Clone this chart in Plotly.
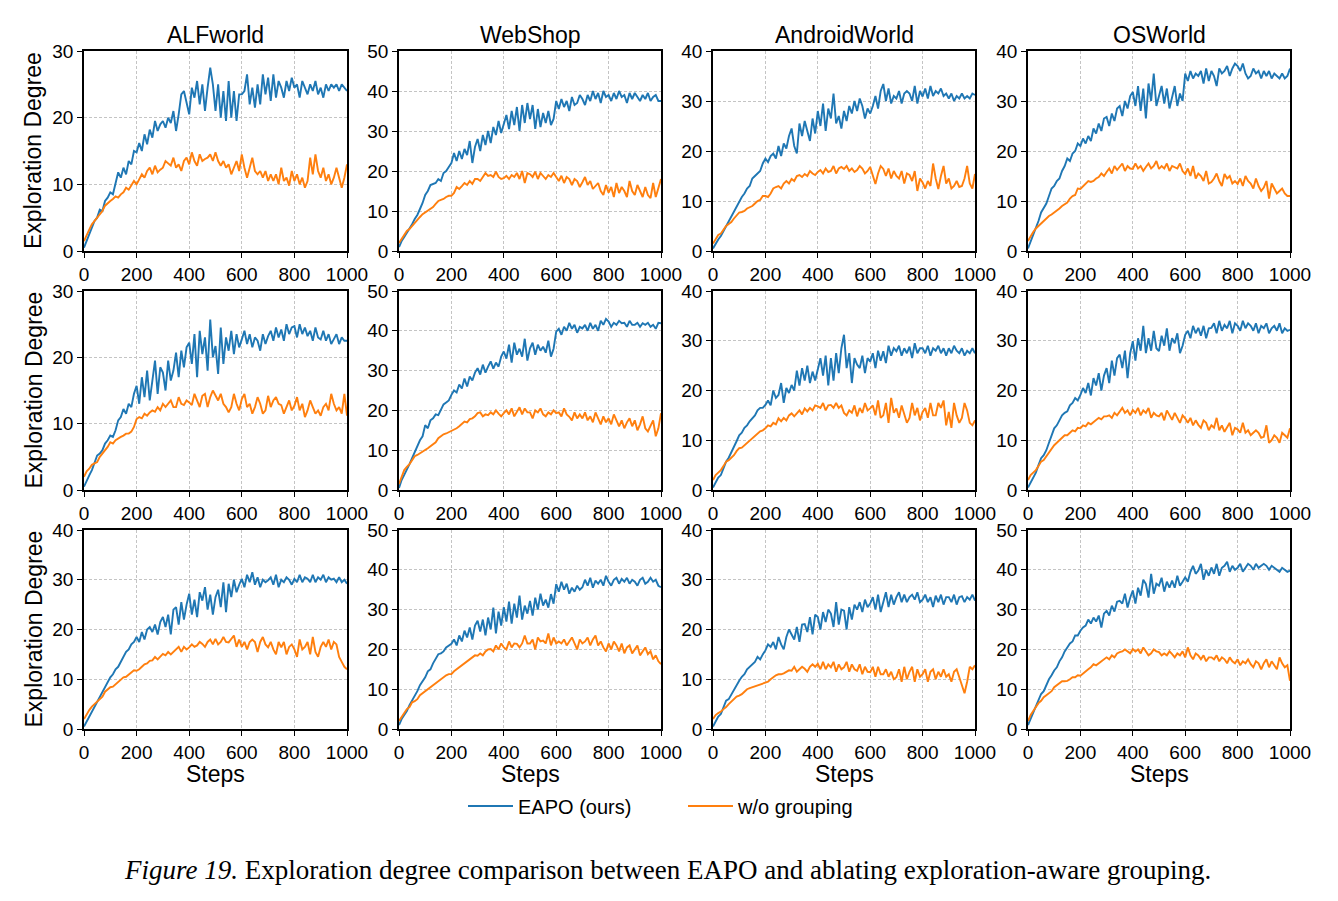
import plotly.graph_objects as go
from plotly.subplots import make_subplots

steps = list(range(0, 1001, 10))

env_titles = ["ALFworld", "WebShop", "AndroidWorld", "OSWorld"]
series_names = ["EAPO (ours)", "w/o grouping"]
colors = ["#1f77b4", "#ff7f0e"]

# ---------------- Row 1 ----------------
alf1_eapo = [0.5, 1.5, 2.5, 3.5, 4.5, 5.0, 6.2, 6.0, 7.5, 8.0,
             8.8, 8.5, 10.2, 11.8, 11.0, 12.5, 11.5, 13.5, 13.0, 15.0,
             14.8, 16.2, 15.0, 17.5, 16.0, 18.2, 17.0, 19.5, 18.0, 19.0,
             19.5, 18.5, 20.0, 19.2, 21.0, 18.0, 20.5, 23.5, 24.0, 22.0,
             20.5, 24.5, 23.0, 25.5, 22.0, 25.0, 21.0, 24.5, 27.5, 25.0,
             21.0, 25.0, 20.0, 24.0, 19.5, 25.5, 20.0, 24.0, 19.5, 23.5,
             23.5, 24.0, 26.5, 22.0, 24.5, 21.5, 25.0, 22.0, 26.5, 23.5,
             26.0, 22.5, 26.5, 23.0, 25.5, 24.5, 23.0, 25.5, 24.0, 26.0,
             24.5, 25.0, 23.0, 25.5, 24.5, 23.5, 25.0, 24.0, 25.5, 23.5,
             24.5, 23.0, 25.0, 24.0, 25.0, 24.5, 25.0, 24.0, 25.0, 24.5, 24.0]
alf1_wo = [1.5, 2.5, 3.2, 4.0, 4.5, 5.0, 5.5, 6.0, 6.8, 7.2,
           7.5, 7.8, 8.2, 8.0, 8.5, 8.8, 9.5, 9.2, 9.8, 10.5,
           10.0, 10.8, 11.5, 11.0, 12.0, 12.5, 11.5, 12.8, 11.8, 12.2,
           12.5, 13.5, 13.2, 12.8, 14.0, 12.5, 13.0, 12.0, 13.5, 14.0,
           13.0, 14.8, 13.5, 12.8, 14.5, 13.5, 13.8, 14.0, 14.5, 13.5,
           14.8, 13.5, 12.8, 13.5, 12.5, 13.0, 11.5, 12.5, 13.5, 12.0,
           14.5, 12.5, 11.0, 12.5, 14.0, 12.0, 11.5, 12.0, 11.0, 12.0,
           10.5, 11.5, 10.5, 11.5, 10.0, 12.5, 10.5, 11.0, 9.8, 12.0,
           10.5, 11.5, 10.0, 11.0, 9.5, 10.5, 14.0, 11.5, 14.5, 12.0,
           11.0, 12.5, 10.5, 11.5, 10.0, 11.0, 12.5, 11.0, 9.5, 11.0, 13.0]

web1_eapo = [1.0, 2.5, 3.5, 4.5, 5.5, 6.7, 8.0, 9.0, 10.5, 12.0,
             14.0, 15.0, 16.5, 16.8, 17.0, 18.0, 17.5, 19.5, 20.0, 21.0,
             22.0, 24.5, 22.5, 25.0, 23.0, 25.5, 24.0, 27.5, 22.0, 26.0,
             28.0, 25.0, 29.0, 26.5, 30.0, 27.0, 31.0, 29.0, 32.5, 29.5,
             32.0, 34.0, 30.5, 35.0, 31.5, 36.0, 30.0, 36.5, 32.0, 37.0,
             33.0, 36.5, 30.5, 35.5, 31.0, 34.5, 32.0, 35.0, 31.5, 33.0,
             37.5, 35.5, 38.0, 36.0, 37.5, 35.0, 38.5, 36.5, 37.0, 39.0,
             38.0, 36.5, 39.0, 37.5, 40.0, 38.0, 39.5, 37.0, 40.0, 38.5,
             39.0, 37.5, 39.5, 38.0, 40.0, 38.5, 39.0, 37.0, 39.5, 38.0,
             39.5, 38.5, 37.5, 39.0, 38.0, 39.5, 37.5, 38.5, 39.0, 37.5, 37.5]
web1_wo = [2.0, 3.0, 4.0, 5.0, 5.5, 6.3, 7.0, 7.8, 8.5, 9.2,
           9.6, 10.0, 10.5, 11.0, 11.8, 12.5, 12.8, 13.0, 13.5, 13.8,
           13.8, 14.5, 16.0, 15.5, 16.2, 17.0, 16.5, 17.5, 16.8, 18.0,
           18.0, 17.5, 18.5, 19.5, 18.8, 19.0, 18.5, 19.8, 18.5, 18.0,
           18.2, 18.8, 18.0, 19.0, 18.5, 19.5, 18.0, 20.0, 17.0, 19.5,
           19.2, 18.5, 19.8, 18.0, 19.5, 18.8, 18.0, 19.0, 18.5, 19.5,
           18.4, 17.5, 18.8, 17.0, 18.5, 18.0, 16.5, 18.0, 17.5, 16.0,
           17.2, 18.5, 16.5, 17.5, 15.5, 16.3, 17.0, 15.0, 14.0, 16.5,
           14.6, 16.0, 13.5, 17.0, 14.5, 16.0, 15.0, 13.5, 17.5, 15.0,
           14.0, 16.5, 15.0, 13.5, 16.0, 14.0, 13.2, 17.0, 13.5, 15.5, 18.0]

and1_eapo = [0.5, 1.5, 2.3, 3.0, 4.0, 5.0, 5.8, 6.8, 7.8, 9.0,
             10.0, 10.8, 11.5, 12.5, 13.0, 14.5, 15.0, 15.5, 16.0, 17.5,
             18.5, 17.8, 19.0, 19.5, 18.5, 21.0, 19.0, 21.5, 20.5, 23.0,
             24.5, 21.0, 19.5, 25.5, 23.0, 26.0, 24.0, 22.0, 26.5, 23.5,
             28.0, 25.0, 29.5, 24.0, 28.5, 26.5, 31.5, 25.5, 27.0, 24.5,
             28.0, 26.0, 29.0, 27.5, 30.0, 28.0, 30.5, 29.0, 26.5, 28.5,
             27.5, 29.0, 31.0, 28.5, 32.0, 33.4, 30.0, 32.5, 29.5, 31.0,
             30.5, 32.0, 29.5, 31.5, 32.0, 31.5, 30.0, 33.0, 29.5, 32.0,
             30.9, 32.5, 30.5, 33.0, 31.0, 32.0, 31.5, 32.5, 31.0, 31.5,
             30.5, 31.5, 30.0, 31.0, 30.5, 31.5, 30.5, 31.0, 30.5, 31.5, 31.2]
and1_wo = [1.5, 2.5, 3.2, 3.5, 4.3, 5.0, 5.4, 5.8, 6.5, 7.0,
           7.7, 7.8, 8.0, 8.5, 8.8, 9.0, 9.5, 10.0, 10.2, 11.0,
           11.0, 10.8, 11.5, 12.5, 12.8, 13.0, 12.5, 13.5, 14.0, 13.5,
           14.4, 14.0, 15.0, 15.2, 14.8, 15.4, 15.0, 16.0, 15.5, 15.2,
           15.8, 16.2, 15.5, 16.5, 15.8, 16.0, 17.0, 15.5, 16.5, 16.8,
           16.4, 17.0, 16.0, 16.5, 15.8, 16.2, 17.0, 16.5, 15.5, 16.0,
           16.8, 15.0, 13.4, 15.5, 17.0, 16.4, 15.0, 16.5, 14.5, 16.0,
           15.0, 14.5, 16.0, 13.5, 15.5, 15.2, 14.0, 16.0, 12.0, 14.5,
           13.7, 12.5, 14.0, 13.0, 17.5, 14.5, 12.4, 15.0, 17.0, 13.5,
           14.5, 12.5, 13.0, 14.0, 12.8, 13.0, 14.5, 17.0, 13.5, 12.5, 15.4]

os1_eapo = [0.5, 1.8, 3.0, 4.5, 6.0, 7.7, 8.5, 9.5, 11.0, 12.5,
            13.0, 14.0, 14.5, 16.0, 17.0, 18.5, 18.0, 19.5, 20.0, 21.5,
            21.0, 22.5, 21.5, 23.0, 22.0, 24.5, 23.5, 25.5, 24.0, 26.5,
            26.8, 25.0, 27.5, 26.0, 28.5, 29.0, 27.0, 30.0, 28.5, 31.0,
            31.8, 29.0, 33.0, 28.0, 32.5, 26.5, 33.5, 30.0, 35.5, 29.0,
            31.0, 33.0, 29.5, 32.5, 28.5, 31.0, 33.0, 29.0, 31.5, 30.0,
            35.5, 34.0, 36.0, 34.5, 35.5, 35.0, 36.0, 33.5, 36.5, 34.0,
            36.0, 35.0, 33.0, 36.5, 35.5, 36.0, 37.0, 35.0, 36.5, 37.5,
            37.0, 36.0, 37.5, 35.5, 34.5, 35.0, 36.5, 35.5, 36.0, 34.5,
            36.0, 35.0, 36.0, 34.5, 35.5, 35.0, 34.5, 35.5, 34.5, 35.0, 36.5]
os1_wo = [2.0, 3.0, 3.8, 4.5, 5.0, 5.7, 6.0, 6.5, 7.0, 7.3,
          7.7, 8.0, 8.5, 9.0, 9.3, 9.7, 10.5, 11.0, 11.2, 12.5,
          12.4, 13.0, 13.5, 14.0, 13.8, 14.0, 14.5, 14.8, 15.5, 15.0,
          15.8, 16.5, 15.5, 17.0, 16.2, 16.8, 17.5, 16.0, 17.0, 16.5,
          16.4, 17.5, 16.5, 17.0, 16.0, 16.8, 17.5, 16.5, 17.0, 18.0,
          16.4, 17.0, 16.5, 17.5, 16.0, 17.0, 16.8, 16.5, 17.5, 16.0,
          15.4, 16.5, 15.0, 17.0, 14.5, 15.5, 15.0, 14.0, 16.0, 13.5,
          13.8, 14.5, 15.5, 14.0, 13.0, 15.4, 14.5, 15.0, 13.5, 14.0,
          13.4, 14.5, 13.0, 15.0, 14.0, 13.5, 12.5, 14.5, 13.0, 12.0,
          12.7, 14.0, 10.5, 13.5, 12.5, 11.5, 12.0, 12.5, 11.5, 11.0, 11.0]

# ---------------- Row 2 ----------------
alf2_eapo = [0.5, 1.5, 2.2, 3.0, 4.0, 5.2, 5.5, 6.0, 7.0, 7.5,
             8.2, 8.0, 9.0, 10.5, 11.0, 12.2, 11.5, 13.0, 12.5, 14.5,
             15.7, 13.0, 17.0, 14.0, 18.0, 13.5, 16.5, 19.5, 14.5, 18.5,
             17.7, 15.0, 19.5, 16.5, 18.0, 20.7, 17.0, 21.0, 18.5, 21.5,
             22.2, 19.0, 23.5, 17.0, 24.0, 20.5, 23.0, 18.0, 25.7, 20.0,
             21.7, 17.5, 24.5, 19.0, 23.0, 21.0, 24.0, 20.5, 23.5, 21.5,
             22.7, 24.0, 22.0, 23.5, 21.5, 23.0, 22.5, 21.0, 23.5, 22.0,
             23.2, 24.0, 22.5, 24.5, 23.0, 24.2, 22.5, 25.0, 23.5, 24.5,
             24.7, 23.0, 25.0, 23.5, 24.5, 23.2, 24.0, 22.5, 24.5, 23.0,
             22.7, 24.0, 22.5, 23.5, 22.0, 22.7, 23.5, 22.0, 23.0, 22.5, 22.5]
alf2_wo = [2.0, 2.8, 3.2, 3.8, 4.0, 4.2, 5.0, 5.5, 6.0, 6.5,
           7.2, 7.0, 7.5, 7.8, 8.0, 8.2, 8.5, 8.5, 8.8, 9.5,
           10.7, 11.0, 10.8, 11.5, 11.2, 11.7, 12.0, 11.8, 12.5, 12.0,
           13.0, 12.5, 13.0, 13.5, 12.5, 12.5, 14.0, 13.0, 12.8, 13.5,
           13.2, 12.8, 14.5, 13.5, 12.5, 14.2, 14.5, 12.5, 14.0, 15.0,
           14.2, 13.5, 14.5, 13.0, 12.5, 11.7, 12.5, 14.5, 13.0, 12.0,
           13.7, 14.5, 12.5, 13.0, 11.5, 12.5, 14.0, 13.0, 11.5, 12.0,
           14.2, 12.5, 13.5, 14.0, 13.0, 12.8, 11.5, 12.5, 13.5, 12.0,
           12.7, 14.0, 12.0, 13.0, 11.0, 12.0, 13.5, 12.5, 11.5, 12.0,
           11.2, 12.5, 13.0, 12.0, 14.5, 13.0, 12.0, 12.5, 11.5, 14.5, 11.2]

web2_eapo = [0.5, 2.5, 3.8, 5.0, 6.5, 8.0, 9.5, 11.0, 12.5, 13.5,
             16.3, 15.5, 17.5, 18.0, 19.0, 18.8, 20.0, 21.5, 22.0, 22.5,
             23.9, 25.0, 24.5, 26.5, 25.5, 28.0, 26.0, 28.5, 27.5, 29.5,
             30.6, 29.0, 31.5, 29.5, 31.0, 32.3, 30.5, 32.0, 31.0, 33.5,
             34.8, 33.0, 36.5, 32.0, 37.0, 34.0, 35.5, 33.5, 38.0, 32.5,
             35.6, 37.0, 34.0, 36.5, 35.0, 36.0, 34.5, 37.5, 33.5, 35.5,
             39.8, 40.5, 39.0, 41.0, 40.0, 42.0, 40.5, 41.5, 39.5, 41.0,
             40.6, 41.5, 40.0, 42.0, 40.5, 41.5, 40.0, 42.5, 41.5, 43.0,
             42.3, 41.0, 42.0, 41.5, 42.5, 41.9, 42.0, 41.0, 42.5, 41.5,
             41.5, 42.0, 41.0, 41.9, 41.5, 42.0, 41.0, 41.5, 40.5, 42.0, 41.9]
web2_wo = [1.5, 3.5, 5.0, 5.8, 6.5, 7.5, 8.5, 8.8, 9.2, 9.5,
           10.0, 10.5, 11.0, 11.5, 12.0, 13.0, 13.5, 14.0, 14.2, 14.5,
           14.7, 15.0, 15.5, 16.0, 16.5, 17.2, 17.0, 17.8, 18.0, 18.5,
           19.3, 19.5, 18.5, 19.0, 18.8, 19.5, 19.0, 20.0, 19.2, 18.5,
           19.3, 20.0, 19.0, 20.5, 18.5, 19.5, 20.8, 19.0, 20.5, 19.5,
           19.5, 18.0, 20.0, 19.5, 20.5, 19.0, 18.5, 19.5, 19.0, 20.0,
           19.3, 19.5, 18.5, 20.5, 19.0, 18.4, 17.5, 19.5, 18.0, 19.0,
           18.0, 19.5, 17.5, 18.5, 17.0, 19.5, 18.0, 16.5, 18.5, 17.0,
           18.0, 16.5, 19.0, 17.5, 16.0, 17.5, 15.5, 17.0, 18.0, 16.0,
           17.5, 15.0, 16.5, 18.5, 15.5, 14.7, 16.0, 17.5, 13.5, 15.5, 19.3]

and2_eapo = [0.5, 1.5, 2.5, 3.0, 4.5, 5.7, 6.5, 7.5, 8.5, 9.8,
             11.0, 11.5, 12.5, 13.0, 13.8, 14.4, 15.0, 16.0, 16.5, 16.5,
             17.1, 18.0, 17.0, 20.0, 18.5, 19.1, 21.5, 17.5, 20.5, 19.5,
             21.1, 20.0, 24.0, 21.0, 24.5, 22.0, 25.0, 21.5, 23.8, 22.0,
             24.5, 26.5, 23.0, 27.0, 21.0, 26.5, 22.0, 27.5, 23.5, 28.5,
             31.2, 24.5, 27.5, 21.5, 26.5, 25.2, 24.5, 27.0, 23.5, 26.5,
             25.8, 27.5, 24.5, 28.0, 26.0, 27.9, 25.5, 29.0, 27.0, 28.5,
             27.9, 29.0, 27.0, 28.5, 27.5, 28.8, 26.5, 29.5, 27.5, 28.5,
             28.5, 27.5, 29.0, 27.0, 28.5, 28.0, 29.0, 27.5, 28.5, 27.0,
             28.5, 27.5, 29.0, 28.0, 27.5, 28.5, 27.0, 28.0, 27.5, 28.5, 27.5]
and2_wo = [2.0, 3.0, 3.5, 4.0, 4.8, 5.7, 6.0, 6.5, 7.0, 7.8,
           8.4, 8.5, 9.0, 9.5, 10.0, 10.4, 11.0, 11.5, 11.8, 12.0,
           12.4, 13.0, 12.8, 13.5, 13.2, 14.4, 13.8, 14.5, 14.0, 15.0,
           15.4, 14.8, 15.5, 16.0, 15.2, 16.4, 15.8, 16.5, 16.0, 17.0,
           16.8, 16.5, 17.5, 16.0, 17.0, 17.1, 16.5, 17.5, 16.5, 17.0,
           15.5, 15.0, 16.0, 15.5, 17.0, 14.8, 16.5, 15.5, 17.5, 16.0,
           16.4, 17.0, 15.0, 18.0, 14.5, 15.0, 17.5, 13.5, 18.5, 15.5,
           16.4, 14.5, 17.0, 15.0, 13.5, 14.5, 17.5, 15.0, 16.5, 14.0,
           15.7, 16.5, 14.5, 17.5, 15.0, 15.0, 17.5, 16.5, 18.0, 13.0,
           15.7, 12.5, 17.5, 15.0, 13.5, 14.5, 17.5, 16.0, 13.5, 13.0, 14.0]

os2_eapo = [0.5, 1.5, 2.5, 3.5, 5.0, 6.4, 7.0, 8.0, 9.5, 11.0,
            12.4, 13.0, 14.0, 15.0, 15.5, 15.8, 17.0, 17.5, 18.5, 18.0,
            19.1, 20.5, 19.5, 21.5, 19.0, 22.5, 21.0, 23.5, 20.0, 23.0,
            24.5, 21.5, 26.0, 23.0, 26.5, 27.2, 24.5, 28.0, 22.5, 27.5,
            29.9, 26.0, 30.5, 28.0, 33.0, 27.5, 30.5, 28.0, 32.0, 28.5,
            27.9, 31.0, 29.0, 32.5, 28.0, 30.5, 29.5, 31.5, 27.5, 29.0,
            31.2, 32.0, 30.5, 33.0, 31.5, 32.6, 31.0, 33.0, 30.5, 32.5,
            32.6, 33.5, 31.5, 34.0, 32.0, 33.2, 32.5, 34.0, 31.5, 33.5,
            33.0, 32.0, 34.0, 32.5, 33.5, 33.0, 32.0, 33.5, 31.5, 33.0,
            32.5, 33.5, 31.5, 32.5, 33.0, 32.0, 33.5, 31.5, 32.5, 32.0, 32.2]
os2_wo = [2.0, 3.0, 3.5, 4.0, 4.8, 5.7, 6.0, 6.8, 7.5, 8.2,
          9.0, 9.5, 10.0, 10.5, 11.0, 11.0, 11.5, 12.0, 11.8, 12.5,
          12.4, 13.0, 12.8, 13.5, 13.2, 13.7, 14.0, 14.5, 14.2, 14.8,
          14.8, 15.0, 14.5, 15.5, 15.0, 15.8, 16.5, 15.5, 16.0, 15.0,
          16.1, 15.5, 16.5, 15.0, 16.0, 15.5, 16.5, 14.5, 15.5, 15.0,
          14.8, 15.5, 14.0, 16.0, 15.0, 14.1, 15.5, 14.5, 13.5, 15.0,
          14.4, 13.5, 14.5, 13.0, 14.0, 13.1, 12.5, 14.0, 13.5, 12.0,
          13.0, 12.5, 14.5, 12.0, 13.0, 11.7, 12.5, 13.5, 11.0, 12.5,
          12.2, 11.5, 13.5, 11.5, 12.0, 11.0, 11.5, 12.0, 11.5, 10.5,
          10.7, 13.0, 9.5, 10.0, 11.0, 10.5, 9.5, 11.5, 11.0, 10.5, 12.4]

# ---------------- Row 3 ----------------
alf3_eapo = [0.5, 1.5, 2.5, 3.5, 4.5, 5.7, 6.5, 7.5, 8.5, 9.5,
             10.4, 11.0, 12.0, 12.5, 13.5, 14.4, 15.5, 16.0, 17.0, 17.5,
             18.5, 17.5, 19.5, 18.0, 20.0, 20.5, 19.5, 21.0, 19.0, 21.5,
             22.5, 20.5, 23.0, 19.0, 24.0, 24.5, 21.0, 25.5, 22.0, 25.0,
             27.2, 23.0, 26.0, 22.5, 27.5, 25.8, 28.5, 24.0, 27.0, 23.0,
             26.5, 28.0, 24.5, 29.5, 23.5, 29.2, 26.5, 30.0, 27.5, 29.0,
             30.2, 28.5, 31.0, 29.5, 31.5, 29.0, 30.5, 28.5, 30.0, 29.5,
             29.9, 30.5, 29.0, 31.0, 28.5, 30.0, 29.5, 30.5, 30.0, 29.0,
             30.2, 29.5, 31.0, 29.5, 30.5, 30.2, 29.5, 31.0, 29.5, 30.5,
             30.0, 31.0, 29.5, 30.5, 30.0, 30.2, 29.5, 30.5, 29.5, 30.0, 29.2]
alf3_wo = [2.0, 3.0, 3.8, 4.5, 5.0, 5.7, 6.0, 6.5, 7.5, 8.0,
           8.4, 8.5, 9.0, 9.5, 10.0, 10.4, 10.5, 11.0, 11.5, 11.8,
           11.7, 12.0, 12.5, 13.0, 13.2, 13.7, 13.8, 14.5, 14.0, 14.5,
           15.1, 14.8, 15.5, 15.0, 15.5, 15.8, 16.5, 15.5, 16.5, 16.0,
           16.4, 17.0, 16.5, 16.8, 17.5, 17.1, 16.5, 17.5, 18.0, 17.0,
           18.1, 17.0, 17.5, 18.5, 17.5, 17.4, 18.0, 18.8, 16.5, 18.0,
           16.5, 17.5, 16.0, 17.5, 18.0, 17.5, 15.5, 17.5, 18.5, 17.0,
           16.4, 17.5, 16.0, 15.0, 17.5, 16.4, 17.5, 15.0, 16.5, 17.0,
           16.0, 14.5, 18.0, 16.0, 16.5, 17.5, 15.0, 18.5, 15.5, 14.5,
           16.5, 17.5, 16.5, 18.0, 16.0, 17.5, 17.0, 14.5, 13.5, 12.5, 12.0]

web3_eapo = [1.0, 2.5, 3.5, 4.5, 6.0, 7.1, 8.5, 9.5, 11.0, 12.0,
             13.0, 14.5, 15.0, 16.5, 17.5, 18.8, 19.0, 19.5, 20.5, 21.0,
             21.4, 22.5, 21.0, 23.5, 22.0, 24.7, 23.0, 25.5, 22.5, 26.0,
             27.2, 24.5, 27.5, 23.5, 28.0, 25.0, 30.5, 24.0, 29.5, 26.0,
             30.6, 27.0, 32.0, 26.5, 31.5, 28.0, 33.5, 27.5, 31.0, 29.0,
             32.2, 28.5, 33.0, 30.0, 34.0, 31.0, 32.5, 30.5, 33.9, 31.5,
             36.4, 34.5, 37.0, 35.0, 36.5, 34.0, 35.5, 34.5, 36.0, 35.0,
             35.6, 37.5, 36.0, 38.0, 35.5, 37.3, 36.5, 37.5, 36.0, 38.5,
             37.0, 36.0, 37.5, 38.0, 36.5, 37.7, 37.0, 38.0, 36.5, 37.5,
             37.0, 36.0, 37.5, 38.0, 36.5, 37.0, 38.0, 37.0, 37.5, 36.0, 35.6]
web3_wo = [2.0, 3.0, 4.0, 5.0, 5.5, 6.7, 7.0, 7.5, 8.5, 9.0,
           9.6, 10.0, 10.5, 11.0, 11.5, 12.1, 12.5, 13.0, 13.5, 13.8,
           13.8, 14.5, 15.0, 15.5, 16.0, 16.3, 17.0, 17.5, 18.0, 18.5,
           18.4, 19.0, 18.5, 19.5, 20.0, 20.1, 19.5, 21.0, 20.0, 21.5,
           20.5, 20.0, 22.0, 20.5, 21.5, 21.4, 20.5, 21.5, 23.5, 21.5,
           21.5, 22.5, 20.0, 23.0, 22.0, 22.2, 21.5, 24.0, 21.0, 23.0,
           21.5, 22.0, 21.5, 22.5, 21.0, 22.0, 23.0, 21.5, 20.0, 22.5,
           21.5, 22.0, 23.0, 21.0, 22.5, 23.5, 21.0, 22.0, 20.5, 19.5,
           21.5, 20.0, 22.0, 21.0, 19.5, 21.5, 19.0, 20.5, 21.0, 19.0,
           20.0, 21.0, 18.5, 19.5, 20.5, 18.8, 19.5, 17.5, 18.5, 17.0, 16.3]

and3_eapo = [0.5, 1.5, 2.5, 3.0, 4.5, 5.7, 6.0, 7.0, 8.0, 9.0,
             9.7, 10.5, 11.0, 12.0, 12.5, 13.1, 13.5, 14.5, 14.0, 15.0,
             15.8, 17.0, 16.5, 17.5, 16.0, 18.5, 17.0, 16.0, 18.5, 20.0,
             19.1, 18.0, 20.5, 17.5, 21.0, 21.1, 19.5, 22.5, 19.0, 23.0,
             22.5, 20.0, 23.5, 21.5, 24.0, 23.2, 20.5, 25.5, 21.0, 24.0,
             23.8, 20.0, 24.5, 22.0, 25.0, 24.0, 25.5, 23.5, 26.0, 24.5,
             25.2, 26.5, 24.0, 27.0, 23.5, 25.8, 27.5, 24.5, 27.0, 25.0,
             26.5, 27.5, 25.5, 27.0, 25.5, 26.5, 27.0, 26.0, 27.5, 25.5,
             26.0, 27.0, 25.5, 26.5, 24.5, 26.8, 25.5, 27.0, 25.0, 26.5,
             26.5, 25.5, 27.0, 25.0, 26.5, 26.7, 25.5, 26.5, 26.0, 27.0, 25.8]
and3_wo = [2.0, 2.8, 3.2, 3.5, 4.0, 4.4, 5.0, 5.5, 6.0, 6.5,
           6.7, 7.0, 7.5, 8.0, 8.2, 8.4, 8.5, 8.8, 9.0, 9.2,
           9.4, 9.5, 10.0, 10.5, 10.8, 11.0, 11.0, 11.2, 11.5, 11.8,
           11.7, 12.5, 11.5, 12.0, 12.5, 12.1, 11.5, 12.5, 13.0, 12.5,
           13.1, 12.0, 13.5, 12.0, 13.0, 12.4, 13.5, 11.5, 13.0, 12.0,
           12.4, 13.5, 11.5, 13.0, 12.0, 11.7, 13.0, 11.0, 12.5, 11.5,
           11.4, 12.5, 10.5, 12.5, 11.0, 11.0, 12.0, 10.5, 11.5, 10.0,
           10.4, 12.0, 9.5, 12.5, 10.0, 11.5, 12.5, 9.5, 12.0, 10.5,
           11.0, 12.0, 9.5, 11.5, 12.0, 10.0, 11.5, 10.5, 12.0, 10.5,
           11.0, 9.5, 11.5, 12.0, 10.5, 9.0, 7.2, 9.5, 12.5, 12.0, 12.8]

os3_eapo = [1.0, 2.5, 4.0, 5.5, 7.0, 8.8, 9.5, 11.0, 12.5, 13.5,
            14.7, 15.5, 17.0, 18.0, 19.5, 20.5, 21.5, 22.0, 23.5, 23.5,
            24.7, 25.5, 26.0, 27.5, 26.5, 28.0, 27.0, 28.5, 25.5, 29.0,
            29.7, 28.5, 31.0, 29.5, 32.0, 32.2, 31.5, 34.0, 30.5, 33.0,
            34.8, 31.5, 35.5, 33.5, 37.5, 36.4, 33.0, 39.0, 34.0, 36.5,
            36.0, 38.0, 34.5, 37.0, 35.5, 37.3, 35.5, 38.5, 36.0, 37.0,
            38.1, 37.0, 39.5, 41.0, 39.0, 39.8, 41.5, 37.5, 40.0, 38.5,
            40.6, 39.0, 41.5, 38.5, 40.5, 41.0, 42.0, 39.5, 41.0, 40.0,
            40.5, 41.5, 39.5, 40.5, 41.5, 41.0, 40.0, 41.5, 40.5, 41.0,
            41.5, 41.0, 40.0, 41.0, 40.5, 40.0, 39.5, 40.5, 40.0, 39.5, 39.8]
os3_wo = [2.0, 3.5, 4.5, 5.5, 6.5, 7.1, 8.0, 8.5, 9.0, 9.5,
          10.5, 11.0, 11.5, 12.0, 12.0, 12.1, 12.5, 13.0, 13.0, 13.5,
          13.4, 14.0, 14.5, 15.0, 15.5, 16.3, 16.0, 16.5, 17.0, 17.5,
          18.0, 17.5, 18.5, 18.0, 19.0, 19.3, 19.5, 20.0, 19.5, 19.0,
          20.1, 19.5, 20.0, 19.0, 20.5, 19.5, 18.5, 19.0, 20.0, 19.5,
          19.3, 18.5, 19.0, 18.5, 19.5, 18.8, 18.0, 19.0, 18.5, 19.5,
          18.0, 20.5, 18.5, 17.5, 19.0, 18.5, 17.5, 18.5, 17.0, 18.0,
          18.0, 17.5, 18.5, 17.0, 18.0, 17.5, 16.5, 18.0, 17.0, 16.5,
          17.5, 16.0, 17.0, 16.5, 17.5, 16.3, 15.5, 17.0, 16.5, 15.0,
          16.5, 17.5, 15.5, 17.0, 16.0, 15.0, 18.0, 16.5, 15.5, 16.0, 12.1]

panels = [
    [(alf1_eapo, alf1_wo, 30), (web1_eapo, web1_wo, 50), (and1_eapo, and1_wo, 40), (os1_eapo, os1_wo, 40)],
    [(alf2_eapo, alf2_wo, 30), (web2_eapo, web2_wo, 50), (and2_eapo, and2_wo, 40), (os2_eapo, os2_wo, 40)],
    [(alf3_eapo, alf3_wo, 40), (web3_eapo, web3_wo, 50), (and3_eapo, and3_wo, 40), (os3_eapo, os3_wo, 50)],
]

W, H = 1338, 901
col_px = [(84, 347), (399, 661), (713, 975), (1028, 1290)]
row_px = [(51, 251), (291, 490), (530, 729)]

fig = make_subplots(rows=3, cols=4)
FONT = "Liberation Sans, Arial, sans-serif"

for r in range(3):
    for c in range(4):
        eapo, wo, ymax = panels[r][c]
        show = (r == 0 and c == 0)
        fig.add_trace(go.Scatter(x=steps, y=eapo, mode="lines", name=series_names[0],
                                 line=dict(color=colors[0], width=1.9),
                                 showlegend=show, legendgroup="a"), row=r + 1, col=c + 1)
        fig.add_trace(go.Scatter(x=steps, y=wo, mode="lines", name=series_names[1],
                                 line=dict(color=colors[1], width=1.9),
                                 showlegend=show, legendgroup="b"), row=r + 1, col=c + 1)
        idx = r * 4 + c + 1
        xa = "xaxis" if idx == 1 else f"xaxis{idx}"
        ya = "yaxis" if idx == 1 else f"yaxis{idx}"
        x0, x1 = col_px[c]
        y0, y1 = row_px[r]
        axis_common = dict(showline=True, mirror=True, linecolor="black", linewidth=1.6,
                           ticks="outside", ticklen=5, tickwidth=1.2, tickcolor="black",
                           showgrid=True, gridcolor="#c4c4c4", griddash="3px,2px", gridwidth=0.7,
                           zeroline=False, automargin=False,
                           tickfont=dict(family=FONT, size=19, color="black"))
        fig.update_layout(**{
            xa: dict(domain=[x0 / W, x1 / W], range=[0, 1000], tickvals=[0, 200, 400, 600, 800, 1000],
                     **axis_common),
            ya: dict(domain=[1 - y1 / H, 1 - y0 / H], range=[0, ymax],
                     tickvals=list(range(0, ymax + 1, 10)), **axis_common),
        })

annotations = []
for c, t in enumerate(env_titles):
    cx = (col_px[c][0] + col_px[c][1]) / 2 / W
    annotations.append(dict(text=t, x=cx, y=1 - 35 / H, xref="paper", yref="paper",
                            xanchor="center", yanchor="middle", showarrow=False,
                            font=dict(family=FONT, size=23, color="black")))
    annotations.append(dict(text="Steps", x=cx, y=1 - 774 / H, xref="paper", yref="paper",
                            xanchor="center", yanchor="middle", showarrow=False,
                            font=dict(family=FONT, size=23, color="black")))
for r in range(3):
    cy = 1 - (row_px[r][0] + row_px[r][1]) / 2 / H
    annotations.append(dict(text="Exploration Degree", x=33 / W, y=cy, xref="paper", yref="paper",
                            xanchor="center", yanchor="middle", textangle=-90, showarrow=False,
                            font=dict(family=FONT, size=23, color="black")))
annotations.append(dict(text="<i>Figure 19.</i> Exploration degree comparison between EAPO and ablating exploration-aware grouping.",
                        x=667 / W, y=1 - 870 / H, xref="paper", yref="paper",
                        xanchor="center", yanchor="middle", showarrow=False,
                        font=dict(family="Liberation Serif, Times New Roman, serif", size=27, color="black")))

fig.update_layout(
    width=W, height=H, autosize=False,
    margin=dict(l=0, r=0, t=0, b=0, pad=0, autoexpand=False),
    paper_bgcolor="white", plot_bgcolor="white",
    annotations=annotations,
    legend=dict(orientation="h", x=683 / W, y=1 - 806 / H, xanchor="center", yanchor="middle",
                font=dict(family=FONT, size=20, color="black"), itemwidth=45,
                entrywidth=160, entrywidthmode="pixels",
                bgcolor="rgba(0,0,0,0)", tracegroupgap=0),
    showlegend=True,
)

fig.write_html("out.html",
               post_script="document.body.style.margin='0';document.body.style.padding='0';document.body.style.overflow='hidden';")
